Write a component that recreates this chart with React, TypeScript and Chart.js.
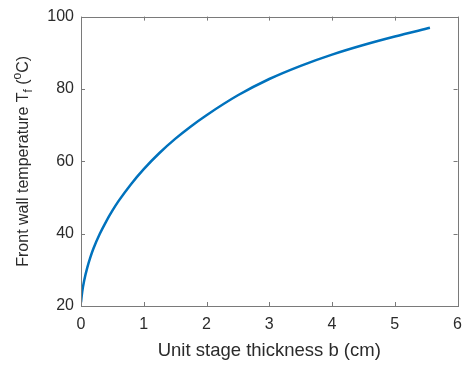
import React, { useEffect, useRef } from "react";
import { Chart, registerables } from "chart.js";

Chart.register(...registerables);

const thicknessCm = [0, 0.02, 0.05, 0.1, 0.15, 0.2, 0.3, 0.4, 0.5, 0.6, 0.8, 1, 1.25, 1.5, 1.75, 2, 2.5, 3, 3.5, 4, 4.5, 5, 5.56];
const frontWallTemp = [21, 24.0, 27.0, 30.6, 33.5, 35.95, 39.95, 43.35, 46.35, 49.05, 53.75, 57.85, 62.3, 66.2, 69.65, 72.75, 78.25, 82.75, 86.4, 89.5, 92.15, 94.5, 96.9];
const xTicks = [0, 1, 2, 3, 4, 5, 6];
const yTicks = [20, 40, 60, 80, 100];
const xTitle = "Unit stage thickness b (cm)";
const yTitleMain = "Front wall temperature T";
const yTitleSub = "f";
const yTitleMid = " (";
const yTitleSup = "o";
const yTitleEnd = "C)";

const FONT = "'Liberation Sans', Arial, Helvetica, sans-serif";
const AXIS_COLOR = "#7a7a7a";
const TEXT_COLOR = "#2b2b2b";

const boxPlugin = {
  id: "matlabBox",
  afterDatasetsDraw(chart: any) {
    const { ctx, chartArea, scales } = chart;
    const { left, right, top, bottom } = chartArea;
    const tl = 4;
    ctx.save();
    ctx.strokeStyle = AXIS_COLOR;
    ctx.lineWidth = 1;
    ctx.beginPath();
    for (const v of xTicks) {
      const px = Math.round(scales.x.getPixelForValue(v)) + 0.5;
      ctx.moveTo(px, bottom);
      ctx.lineTo(px, bottom - tl);
      ctx.moveTo(px, top);
      ctx.lineTo(px, top + tl);
    }
    for (const v of yTicks) {
      const py = Math.round(scales.y.getPixelForValue(v)) + 0.5;
      ctx.moveTo(left, py);
      ctx.lineTo(left + tl, py);
      ctx.moveTo(right, py);
      ctx.lineTo(right - tl, py);
    }
    ctx.stroke();
    ctx.strokeRect(Math.round(left) + 0.5, Math.round(top) + 0.5, Math.round(right - left), Math.round(bottom - top));
    ctx.restore();
  },
  afterDraw(chart: any) {
    const { ctx, chartArea } = chart;
    const big = `16px ${FONT}`;
    const small = `12px ${FONT}`;
    ctx.save();
    ctx.fillStyle = TEXT_COLOR;
    ctx.textBaseline = "middle";
    ctx.textAlign = "left";
    ctx.font = big;
    const wMain = ctx.measureText(yTitleMain).width;
    const wMid = ctx.measureText(yTitleMid).width;
    const wEnd = ctx.measureText(yTitleEnd).width;
    ctx.font = small;
    const wSub = ctx.measureText(yTitleSub).width;
    const wSup = ctx.measureText(yTitleSup).width;
    const total = wMain + wSub + wMid + wSup + wEnd;
    const cy = (chartArea.top + chartArea.bottom) / 2;
    ctx.translate(24, cy);
    ctx.rotate(-Math.PI / 2);
    let x = -total / 2;
    ctx.font = big;
    ctx.fillText(yTitleMain, x, 0);
    x += wMain;
    ctx.font = small;
    ctx.fillText(yTitleSub, x, 5);
    x += wSub;
    ctx.font = big;
    ctx.fillText(yTitleMid, x, 0);
    x += wMid;
    ctx.font = small;
    ctx.fillText(yTitleSup, x, -6);
    x += wSup;
    ctx.font = big;
    ctx.fillText(yTitleEnd, x, 0);
    ctx.restore();
  },
};

export default function App() {
  const canvasRef = useRef<HTMLCanvasElement | null>(null);

  useEffect(() => {
    const canvas = canvasRef.current;
    if (!canvas) return;
    const chart = new Chart(canvas, {
      type: "line",
      data: {
        datasets: [
          {
            data: thicknessCm.map((b, i) => ({ x: b, y: frontWallTemp[i] })),
            borderColor: "#0072BD",
            borderWidth: 2.5,
            pointRadius: 0,
            cubicInterpolationMode: "monotone",
            fill: false,
          },
        ],
      },
      options: {
        animation: false,
        responsive: false,
        maintainAspectRatio: false,
        layout: { padding: { left: 0, right: 9.5, top: 12, bottom: 0 } },
        plugins: { legend: { display: false }, tooltip: { enabled: false } },
        scales: {
          x: {
            type: "linear",
            min: 0,
            max: 6,
            afterBuildTicks: (scale: any) => {
              scale.ticks = xTicks.map((v) => ({ value: v }));
            },
            afterFit: (scale: any) => {
              scale.height = 61;
            },
            grid: { display: false, drawTicks: false },
            border: { display: false },
            ticks: { color: TEXT_COLOR, font: { size: 16, family: FONT }, padding: 9, maxRotation: 0 },
            title: {
              display: true,
              text: xTitle,
              color: TEXT_COLOR,
              font: { size: 18.5, family: FONT },
              padding: { top: 0, bottom: 5 },
            },
          },
          y: {
            type: "linear",
            min: 20,
            max: 100,
            afterBuildTicks: (scale: any) => {
              scale.ticks = yTicks.map((v) => ({ value: v }));
            },
            afterFit: (scale: any) => {
              scale.width = 81;
            },
            grid: { display: false, drawTicks: false },
            border: { display: false },
            ticks: { color: TEXT_COLOR, font: { size: 16, family: FONT }, padding: 7 },
          },
        },
      },
      plugins: [boxPlugin],
    } as any);
    return () => chart.destroy();
  }, []);

  return (
    <div style={{ position: "absolute", left: 0, top: 0, width: 471, height: 367, background: "#fff" }}>
      <canvas ref={canvasRef} width={471} height={367} style={{ display: "block" }} />
    </div>
  );
}
